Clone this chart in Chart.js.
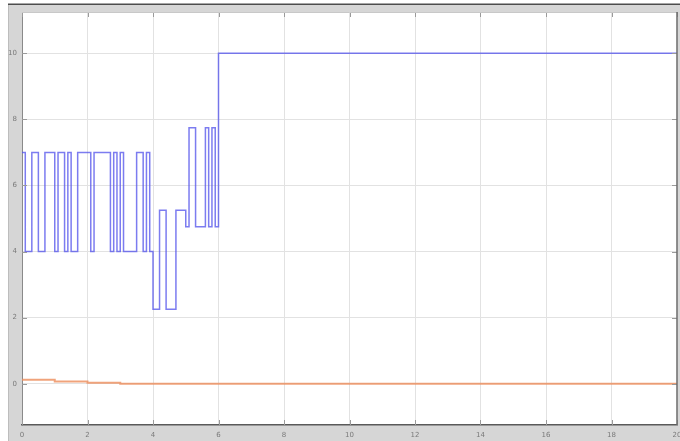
<!DOCTYPE html>
<html>
<head>
<meta charset="utf-8">
<script src="https://cdn.jsdelivr.net/npm/chart.js@4"></script>
<style>
html, body { margin: 0; padding: 0; background: #fff; }
#wrap { width: 680px; height: 441px; }
</style>
</head>
<body>
<div id="wrap"><canvas id="simChart" width="680" height="441"></canvas></div>
<script>
// switching signal (blue): value changes to level[i] at time[i]
var stepTimes  = [0, 0.1, 0.3, 0.5, 0.7, 1.0, 1.1, 1.3, 1.4, 1.5, 1.7, 2.1, 2.2, 2.7, 2.8, 2.9, 3.0, 3.1, 3.5, 3.7, 3.8, 3.9, 4.0, 4.2, 4.4, 4.7, 5.0, 5.1, 5.3, 5.6, 5.7, 5.8, 5.9, 6.0, 20];
var stepLevels = [7, 4, 7, 4, 7, 4, 7, 4, 7, 4, 7, 4, 7, 4, 7, 4, 7, 4, 7, 4, 7, 4, 2.25, 5.25, 2.25, 5.25, 4.75, 7.75, 4.75, 7.75, 4.75, 7.75, 4.75, 10, 10];

// error signal (orange)
var errTimes  = [0, 1, 2, 3, 20];
var errLevels = [0.12, 0.07, 0.03, 0, 0];

var xTicks = [0, 2, 4, 6, 8, 10, 12, 14, 16, 18, 20];
var yTicks = [0, 2, 4, 6, 8, 10];

function toPoints(xs, ys) {
	var pts = [];
	for (var i = 0; i < xs.length; i++) {
		pts.push({ x: xs[i], y: ys[i] });
	}
	return pts;
}

// grey figure panel + axes frame, matlab style
var framePlugin = {
	id: 'frame',
	beforeDraw: function(chart) {
		var ctx = chart.ctx;
		var a = chart.chartArea;
		ctx.save();
		ctx.fillStyle = '#ffffff';
		ctx.fillRect(0, 0, chart.width, chart.height);
		ctx.fillStyle = '#d6d6d6';
		ctx.fillRect(8, 5, chart.width - 8, chart.height - 5);
		ctx.fillStyle = '#4d4d4d';
		ctx.fillRect(8, 3.5, chart.width - 8, 1.5);
		ctx.fillStyle = '#bdbdbd';
		ctx.fillRect(8, 5, 1, chart.height - 5);
		ctx.fillStyle = '#ffffff';
		ctx.fillRect(a.left, a.top, a.right - a.left, a.bottom - a.top);
		ctx.restore();
	},
	afterDatasetsDraw: function(chart) {
		var ctx = chart.ctx;
		var a = chart.chartArea;
		var xs = chart.scales.x, ys = chart.scales.y;
		ctx.save();
		ctx.strokeStyle = '#9a9a9a';
		ctx.lineWidth = 1;
		ctx.beginPath();
		xTicks.forEach(function(v) {
			var px = Math.round(xs.getPixelForValue(v)) + 0.5;
			ctx.moveTo(px, a.bottom); ctx.lineTo(px, a.bottom - 5);
			ctx.moveTo(px, a.top); ctx.lineTo(px, a.top + 5);
		});
		yTicks.forEach(function(v) {
			var py = Math.round(ys.getPixelForValue(v)) + 0.5;
			ctx.moveTo(a.left, py); ctx.lineTo(a.left + 5, py);
			ctx.moveTo(a.right, py); ctx.lineTo(a.right - 5, py);
		});
		ctx.stroke();
		// top and right edges of the axes box
		ctx.strokeStyle = '#c8c8c8';
		ctx.beginPath();
		ctx.moveTo(a.left, a.top + 0.5); ctx.lineTo(a.right, a.top + 0.5);
		ctx.stroke();
		ctx.strokeStyle = '#6a6a6a';
		ctx.lineWidth = 1.5;
		ctx.beginPath();
		ctx.moveTo(a.right, a.top); ctx.lineTo(a.right, a.bottom);
		ctx.stroke();
		ctx.restore();
	}
};

var ctx = document.getElementById('simChart').getContext('2d');
var sim_chart = new Chart(ctx, {
	type: 'line',
	data: {
		datasets: [{
			label: 'switch',
			data: toPoints(stepTimes, stepLevels),
			borderColor: 'rgba(80, 80, 235, 0.75)',
			borderWidth: 1.5,
			stepped: 'before',
			pointRadius: 0,
			fill: false
		}, {
			label: 'error',
			data: toPoints(errTimes, errLevels),
			borderColor: 'rgba(236, 140, 90, 0.8)',
			borderWidth: 2,
			stepped: 'before',
			pointRadius: 0,
			fill: false
		}]
	},
	options: {
		responsive: false,
		animation: false,
		devicePixelRatio: 1,
		layout: {
			padding: { left: 0, top: 12, right: 3, bottom: 0 }
		},
		plugins: {
			legend: { display: false },
			tooltip: { enabled: false }
		},
		scales: {
			x: {
				type: 'linear',
				min: 0,
				max: 20,
				afterBuildTicks: function(scale) {
					scale.ticks = xTicks.map(function(v) { return { value: v }; });
				},
				afterFit: function(scale) {
					scale.height = 16;
					scale.paddingLeft = 0;
					scale.paddingRight = 0;
				},
				grid: { color: '#e2e2e2', lineWidth: 1, drawTicks: false },
				border: { display: true, color: '#5a5a5a', width: 1.5 },
				ticks: {
					padding: 6,
					maxRotation: 0,
					autoSkip: false,
					color: '#7a7a7a',
					font: { family: 'DejaVu Sans', size: 7 }
				}
			},
			y: {
				type: 'linear',
				min: -1.25,
				max: 11.25,
				afterBuildTicks: function(scale) {
					scale.ticks = yTicks.map(function(v) { return { value: v }; });
				},
				afterFit: function(scale) {
					scale.width = 22;
					scale.paddingTop = 0;
					scale.paddingBottom = 0;
				},
				grid: { color: '#e2e2e2', lineWidth: 1, drawTicks: false },
				border: { display: true, color: '#8a8a8a', width: 1 },
				ticks: {
					padding: 5,
					autoSkip: false,
					color: '#7a7a7a',
					font: { family: 'DejaVu Sans', size: 7 }
				}
			}
		}
	},
	plugins: [framePlugin]
});
</script>
</body>
</html>
